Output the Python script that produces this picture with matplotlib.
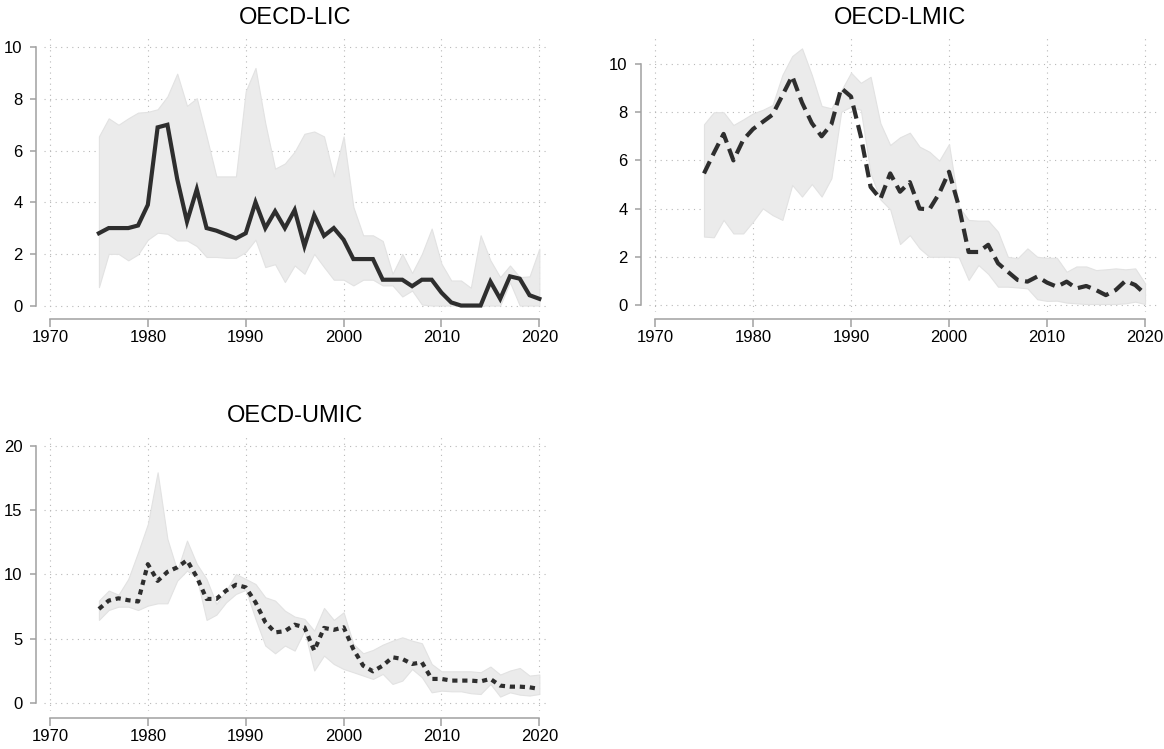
import numpy as np
import matplotlib
matplotlib.use("Agg")
import matplotlib.pyplot as plt

plt.rcParams['font.family'] = ['Liberation Sans', 'DejaVu Sans']

years = np.arange(1975, 2021)

# OECD-LIC: mean and band
lic_mean = [2.8, 3.0, 3.0, 3.0, 3.1, 3.9, 6.9, 7.0, 4.9, 3.25,
            4.5, 3.0, 2.9, 2.75, 2.6, 2.8, 4.0, 3.0, 3.65, 3.0,
            3.7, 2.3, 3.5, 2.7, 3.0, 2.55, 1.8, 1.8, 1.8, 1.0,
            1.0, 1.0, 0.75, 1.0, 1.0, 0.5, 0.12, 0.0, 0.0, 0.0,
            0.93, 0.26, 1.13, 1.04, 0.4, 0.26]
lic_hi = [6.55, 7.25, 7.0, 7.25, 7.47, 7.5, 7.6, 8.1, 8.98, 7.73,
          8.03, 6.55, 5.0, 5.0, 5.0, 8.3, 9.2, 7.06, 5.3, 5.5,
          5.96, 6.65, 6.74, 6.55, 5.0, 6.55, 3.82, 2.72, 2.72, 2.5,
          1.23, 2.0, 1.26, 2.0, 2.98, 1.62, 0.97, 0.97, 0.69, 2.72,
          1.75, 1.1, 1.55, 1.1, 1.13, 2.2]
lic_lo = [0.71, 2.0, 2.0, 1.75, 1.98, 2.55, 2.82, 2.78, 2.52, 2.52,
          2.3, 1.88, 1.88, 1.85, 1.85, 2.07, 2.55, 1.49, 1.6, 0.91,
          1.55, 1.23, 2.0, 1.49, 1.0, 1.0, 0.78, 1.0, 1.0, 0.78,
          0.78, 0.35, 0.58, 0.04, 0.0, 0.0, 0.0, 0.0, 0.0, 0.0,
          0.0, 0.0, 0.9, 0.0, 0.0, 0.0]

# OECD-LMIC
lmic_mean = [5.46, 6.3, 7.1, 6.0, 6.85, 7.3, 7.6, 7.9, 8.7, 9.5,
             8.4, 7.55, 7.0, 7.5, 9.0, 8.65, 7.0, 4.9, 4.4, 5.46,
             4.7, 5.1, 4.0, 3.97, 4.63, 5.53, 4.1, 2.2, 2.2, 2.5,
             1.73, 1.38, 1.04, 0.97, 1.18, 0.93, 0.76, 0.97, 0.69, 0.79,
             0.62, 0.41, 0.62, 1.0, 0.83, 0.46]
lmic_hi = [7.5, 8.0, 8.0, 7.47, 7.7, 7.95, 8.1, 8.3, 9.55, 10.33,
           10.65, 9.55, 8.26, 8.16, 8.9, 9.64, 9.22, 9.47, 7.54, 6.64,
           6.96, 7.15, 6.57, 6.36, 5.99, 6.68, 4.08, 3.53, 3.5, 3.5,
           3.04, 2.0, 1.94, 2.35, 2.0, 1.96, 1.96, 1.38, 1.6, 1.6,
           1.45, 1.48, 1.52, 1.48, 1.52, 0.9]
lmic_lo = [2.84, 2.81, 3.53, 2.97, 2.97, 3.46, 4.01, 3.73, 3.53, 4.98,
           4.5, 5.02, 4.5, 5.26, 8.02, 8.23, 8.1, 5.46, 4.38, 3.97,
           2.53, 2.9, 2.35, 2.0, 2.0, 2.0, 1.98, 1.04, 1.66, 1.29,
           0.76, 0.76, 0.73, 0.69, 0.24, 0.17, 0.18, 0.1, 0.07, 0.04,
           0.04, 0.04, 0.04, 0.07, 0.14, 0.04]

# OECD-UMIC
umic_mean = [7.32, 7.97, 8.15, 8.0, 7.9, 10.8, 9.5, 10.2, 10.55, 11.1,
             9.8, 8.1, 8.1, 8.75, 9.2, 9.0, 7.84, 6.3, 5.5, 5.6,
             6.1, 5.9, 4.09, 5.85, 5.7, 5.9, 4.2, 2.92, 2.48, 2.92,
             3.57, 3.44, 3.05, 3.18, 1.89, 1.89, 1.76, 1.76, 1.76, 1.7,
             1.89, 1.37, 1.29, 1.29, 1.24, 1.11]
umic_hi = [7.97, 8.75, 8.43, 9.65, 11.72, 13.92, 17.93, 12.76, 10.3, 12.63,
           10.82, 9.65, 7.71, 8.75, 10.04, 9.65, 9.26, 8.23, 7.97, 7.19,
           6.73, 6.55, 5.64, 7.4, 6.47, 7.06, 4.6, 3.88, 4.14, 4.55,
           4.86, 5.12, 4.86, 4.66, 3.05, 2.48, 2.48, 2.48, 2.48, 2.41,
           2.85, 2.23, 2.54, 2.74, 2.15, 2.23]
umic_lo = [6.47, 7.24, 7.5, 7.5, 7.24, 7.58, 7.76, 7.76, 9.52, 10.3,
           9.73, 6.47, 6.88, 7.84, 8.49, 8.8, 6.55, 4.48, 3.88, 4.48,
           4.09, 5.64, 2.54, 3.7, 3.05, 2.66, 2.41, 2.15, 1.89, 2.28,
           1.5, 1.76, 2.66, 2.02, 0.85, 0.98, 0.93, 0.93, 0.78, 0.72,
           1.5, 0.52, 0.85, 0.67, 0.6, 0.72]

x_ticks = [1970, 1980, 1990, 2000, 2010, 2020]

W, H = 1164, 749
fig = plt.figure(figsize=(W / 100, H / 100), dpi=100)


def px_axes(left, top, right, bottom):
    return fig.add_axes([left / W, 1 - bottom / H, (right - left) / W, (bottom - top) / H])


def panel(ax, title, mean, lo, hi, yticks, xlim, ylim, dashes):
    ax.grid(True, linestyle=(0, (1, 4)), color='#b8b8b8', linewidth=0.8)
    ax.set_axisbelow(True)
    ax.fill_between(years, lo, hi, facecolor='#ebebeb', edgecolor='#e2e2e2',
                    linewidth=0.8, zorder=2)
    line, = ax.plot(years, mean, color='#2e2e2e', linewidth=3.0, zorder=3,
                    solid_joinstyle='miter')
    if dashes is not None:
        line.set_dashes(dashes)
        line.set_dash_capstyle('butt')

    ax.set_xlim(*xlim)
    ax.set_ylim(*ylim)
    ax.set_xticks(x_ticks)
    ax.set_yticks(yticks)

    for s in ('top', 'right'):
        ax.spines[s].set_visible(False)
    ax.spines['left'].set_position(('outward', 6))
    ax.spines['bottom'].set_position(('outward', 5))
    ax.spines['left'].set_bounds(yticks[0], yticks[-1])
    ax.spines['bottom'].set_bounds(x_ticks[0], x_ticks[-1])
    for s in ('left', 'bottom'):
        ax.spines[s].set_color('#a0a0a0')
        ax.spines[s].set_linewidth(1.1)

    ax.tick_params(axis='x', length=5.8, width=1.1, color='#a0a0a0', pad=2,
                   labelsize=12, labelcolor='black')
    ax.tick_params(axis='y', length=4, width=1.1, color='#a0a0a0', pad=5.5,
                   labelsize=12, labelcolor='black')

    ax.annotate(title, xy=(1995, 1), xycoords=('data', 'axes fraction'),
                xytext=(0, 10), textcoords='offset points',
                ha='center', va='baseline', fontsize=17)


ax1 = px_axes(44, 38, 550, 312)
panel(ax1, 'OECD-LIC', lic_mean, lic_lo, lic_hi, [0, 2, 4, 6, 8, 10],
      (1969.39, 2021.09), (-0.25, 10.36), None)

ax2 = px_axes(649, 38, 1157, 312)
panel(ax2, 'OECD-LMIC', lmic_mean, lmic_lo, lmic_hi, [0, 2, 4, 6, 8, 10],
      (1969.39, 2021.22), (-0.29, 11.08), (3.2, 1.6))

ax3 = px_axes(44, 436, 550, 711)
panel(ax3, 'OECD-UMIC', umic_mean, umic_lo, umic_hi, [0, 5, 10, 15, 20],
      (1969.39, 2021.09), (-0.6, 20.75), (1.25, 1.15))

fig.savefig('out.png', dpi=100)
